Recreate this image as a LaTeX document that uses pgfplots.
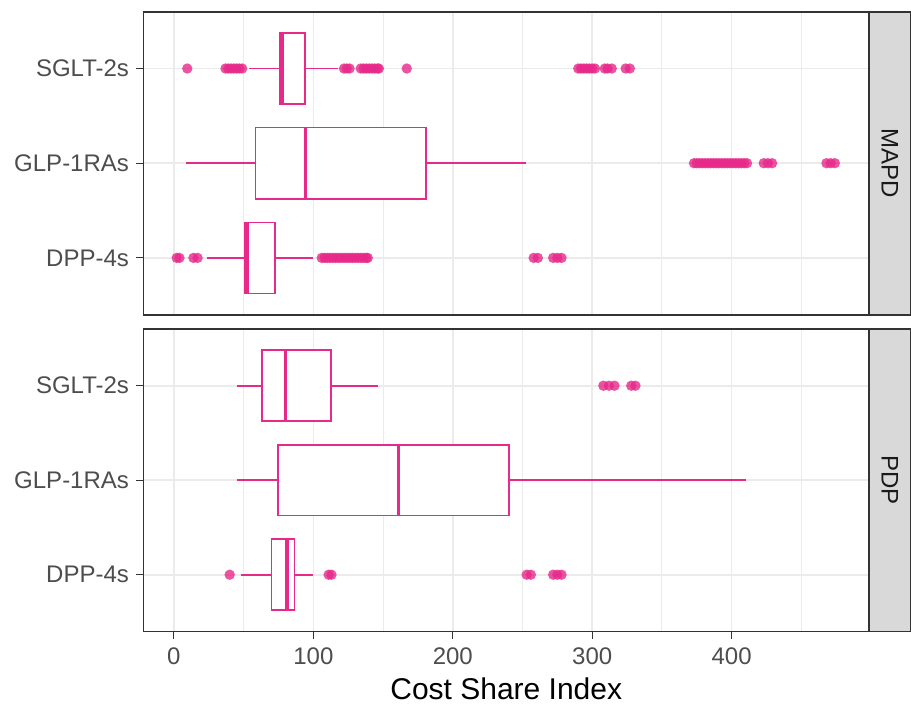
\documentclass[border=0pt]{standalone}
\usepackage{pgfplots}
\pgfplotsset{compat=1.18}
\usepgfplotslibrary{statistics}
\usetikzlibrary{calc}
\usepackage{fontspec}
\setmainfont{Liberation Sans}
\definecolor{cpink}{HTML}{E7298A}
\definecolor{grey10}{HTML}{1A1A1A}
\definecolor{grey20}{HTML}{333333}
\definecolor{grey30}{HTML}{4D4D4D}
\definecolor{grey85}{HTML}{D9D9D9}
\definecolor{grey92}{HTML}{EBEBEB}
\pgfplotsset{
  panel/.style={
    scale only axis, width=362.75pt,
    xmin=-21.8, xmax=498.5, ymin=0.4, ymax=3.6,
    xtick={0,100,200,300,400},
    minor xtick={50,150,250,350,450},
    ytick={1,2,3},
    yticklabels={DPP-4s,GLP-1RAs,SGLT-2s},
    grid=both,
    major grid style={grey92, line width=0.8pt},
    minor grid style={grey92, line width=0.45pt},
    axis line style={grey20, line width=0.8pt},
    tick align=outside,
    major tick length=3.75pt,
    ytick pos=left,
    tick style={grey20, line width=0.6pt},
    minor tick length=0pt,
    /pgf/number format/assume math mode=true,
    ticklabel style={font=\fontsize{12}{14}\selectfont, text=grey30},
  },
  bx/.style={draw=cpink, line width=0.8pt, fill=white, solid,
    mark=*, mark size=2.6pt,
    mark options={draw opacity=0, fill=cpink, fill opacity=0.8, line width=0pt},
    boxplot/whisker extend=0, boxplot/box extend=0.75,
    boxplot/every median/.style={line width=1.8pt}},
}
\begin{document}
\begin{tikzpicture}
% ---------- MAPD ----------
\begin{axis}[panel, name=top, height=151.5pt, at={(0,0)}, anchor=north west,
  xticklabels={}, xtick style={draw=none}]
\addplot[bx, boxplot prepared={draw position=1, lower whisker=24, lower quartile=51,
  median=52.6, upper quartile=72.3, upper whisker=100}]
  table[row sep=\\, y index=0]{v\\ 2\\ 4\\ 14\\ 17\\
  106\\ 108\\ 110\\ 112\\ 114\\ 116\\ 118\\ 120\\ 122\\ 124\\ 126\\ 128\\ 130\\ 132\\ 134\\ 136\\ 138\\ 139\\
  258\\ 261\\ 272\\ 275\\ 278\\};
\addplot[bx, boxplot prepared={draw position=2, lower whisker=9, lower quartile=58.6,
  median=94.5, upper quartile=180.7, upper whisker=252.5}]
  table[row sep=\\, y index=0]{v\\ 373\\ 375\\ 377\\ 379\\ 381\\ 383\\ 385\\ 387\\ 389\\ 391\\ 393\\ 395\\ 397\\ 399\\ 401\\ 403\\ 405\\ 407\\ 409\\ 411\\
  423\\ 426\\ 429\\ 468\\ 471\\ 474\\};
\addplot[bx, boxplot prepared={draw position=3, lower whisker=54, lower quartile=76,
  median=78, upper quartile=94, upper whisker=118}]
  table[row sep=\\, y index=0]{v\\ 9.6\\ 37\\ 39\\ 41\\ 43\\ 45\\ 47\\ 49\\
  122\\ 124\\ 126\\ 134\\ 136\\ 138\\ 140\\ 142\\ 144\\ 146\\ 147\\ 167\\
  290\\ 292\\ 294\\ 296\\ 298\\ 300\\ 302\\ 309\\ 311\\ 314\\ 324\\ 327\\};
\end{axis}
\filldraw[fill=grey85, draw=grey20, line width=0.8pt] (top.north east) rectangle ([xshift=21pt]top.south east);
\node[rotate=-90, font=\fontsize{12}{14}\selectfont, text=grey10] at ([xshift=10.5pt]top.east) {MAPD};
% ---------- PDP ----------
\begin{axis}[panel, name=bot, height=151.2pt, at={($(top.south west)+(0,-7.15pt)$)}, anchor=north west,
  xtick pos=bottom,
  xticklabel style={yshift=-1pt},
  xlabel={Cost Share Index},
  xlabel style={font=\fontsize{15}{18}\selectfont, text=black, at={(axis description cs:0.5,0)}, anchor=base, yshift=-34pt}]
\addplot[bx, boxplot prepared={draw position=1, lower whisker=48, lower quartile=70,
  median=81, upper quartile=86.6, upper whisker=100}]
  table[row sep=\\, y index=0]{v\\ 40\\ 111\\ 113\\ 253\\ 256\\ 272\\ 275\\ 278\\};
\addplot[bx, boxplot prepared={draw position=2, lower whisker=45, lower quartile=74.7,
  median=161, upper quartile=240.5, upper whisker=410}]
  coordinates {};
\addplot[bx, boxplot prepared={draw position=3, lower whisker=45, lower quartile=63,
  median=80, upper quartile=112.7, upper whisker=146.5}]
  table[row sep=\\, y index=0]{v\\ 308\\ 312\\ 316\\ 328\\ 331\\};
\end{axis}
\filldraw[fill=grey85, draw=grey20, line width=0.8pt] (bot.north east) rectangle ([xshift=21pt]bot.south east);
\node[rotate=-90, font=\fontsize{12}{14}\selectfont, text=grey10] at ([xshift=10.5pt]bot.east) {PDP};
\pgfresetboundingbox
\path ([xshift=-71.75pt, yshift=5.85pt]top.north west) rectangle ([xshift=21pt, yshift=-37.15pt]bot.south east);
\end{tikzpicture}
\end{document}
